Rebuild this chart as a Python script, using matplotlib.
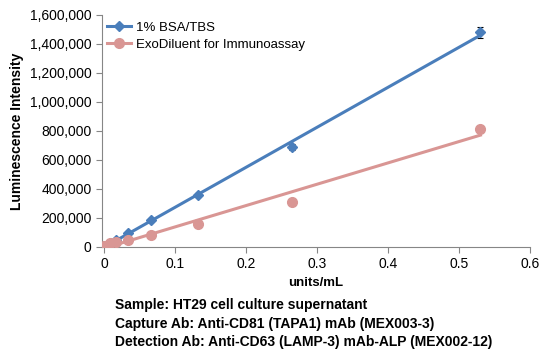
import matplotlib
matplotlib.use('Agg')
import matplotlib.pyplot as plt
import numpy as np

plt.rcParams['font.family'] = ['Liberation Sans', 'DejaVu Sans']

conc      = [0, 0.0083, 0.0166, 0.033, 0.066, 0.1325, 0.265, 0.53]
bsa       = [5000, 25000, 45000, 95000, 185000, 360000, 690000, 1480000]
bsa_err   = [3000, 3000, 4000, 5000, 8000, 12000, 22000, 40000]
exo       = [10000, 28000, 33000, 45000, 82000, 158000, 308000, 815000]
exo_err   = [2000, 2000, 3000, 3000, 4000, 5000, 6000, 8000]
names     = ['1% BSA/TBS', 'ExoDiluent for Immunoassay']
yticks    = [0, 200000, 400000, 600000, 800000, 1000000, 1200000, 1400000, 1600000]
xticks    = [0, 0.1, 0.2, 0.3, 0.4, 0.5, 0.6]
notes     = ['Sample: HT29 cell culture supernatant',
             'Capture Ab: Anti-CD81 (TAPA1) mAb (MEX003-3)',
             'Detection Ab: Anti-CD63 (LAMP-3) mAb-ALP (MEX002-12)']

blue = '#4a7ebb'
pink = '#d99694'

fig = plt.figure(figsize=(5.41, 3.62), dpi=100)
ax = fig.add_axes([0.1885, 0.3177, 0.7915, 0.6409])

x = np.array(conc)
for y, err, c, m, ms, lab in [(bsa, bsa_err, blue, 'D', 5, names[0]),
                              (exo, exo_err, pink, 'o', 7, names[1])]:
    y = np.array(y)
    ax.errorbar(x, y, yerr=err, fmt='none', ecolor='black', elinewidth=0.8,
                capsize=2, capthick=0.8, zorder=2)
    k, b = np.polyfit(x, y, 1)   # linear trendline like excel
    ax.plot([x.min(), x.max()], [k*x.min()+b, k*x.max()+b], color=c, lw=2.2, zorder=3)
    ax.plot(x, y, ls='none', marker=m, ms=ms, color=c, zorder=4)
    ax.plot([], [], color=c, lw=2.2, marker=m, ms=ms, label=lab)

ax.set_xlim(-0.003, 0.6)
ax.set_ylim(0, 1600000)
ax.set_xticks(xticks)
ax.set_xticklabels(['0', '0.1', '0.2', '0.3', '0.4', '0.5', '0.6'])
ax.set_yticks(yticks)
ax.set_yticklabels(['{:,}'.format(v) for v in yticks])
ax.tick_params(labelsize=10, colors='black', length=4, color='#868686')
for s in ['top', 'right']:
    ax.spines[s].set_visible(False)
for s in ['left', 'bottom']:
    ax.spines[s].set_color('#868686')
ax.set_ylabel('Luminescence Intensity', fontsize=10, fontweight='bold')
ax.set_xlabel('units/mL', fontsize=9.5, fontweight='bold', labelpad=4)
ax.legend(loc='upper left', frameon=False, fontsize=9.5, handlelength=1.8,
          handletextpad=0.4, borderaxespad=0.0, labelspacing=0.35,
          bbox_to_anchor=(0.0, 0.995))

for i, t in enumerate(notes):
    fig.text(0.212, 0.158 - i*0.052, t, fontsize=10, fontweight='bold', va='center')

fig.savefig('out.png', dpi=100)
